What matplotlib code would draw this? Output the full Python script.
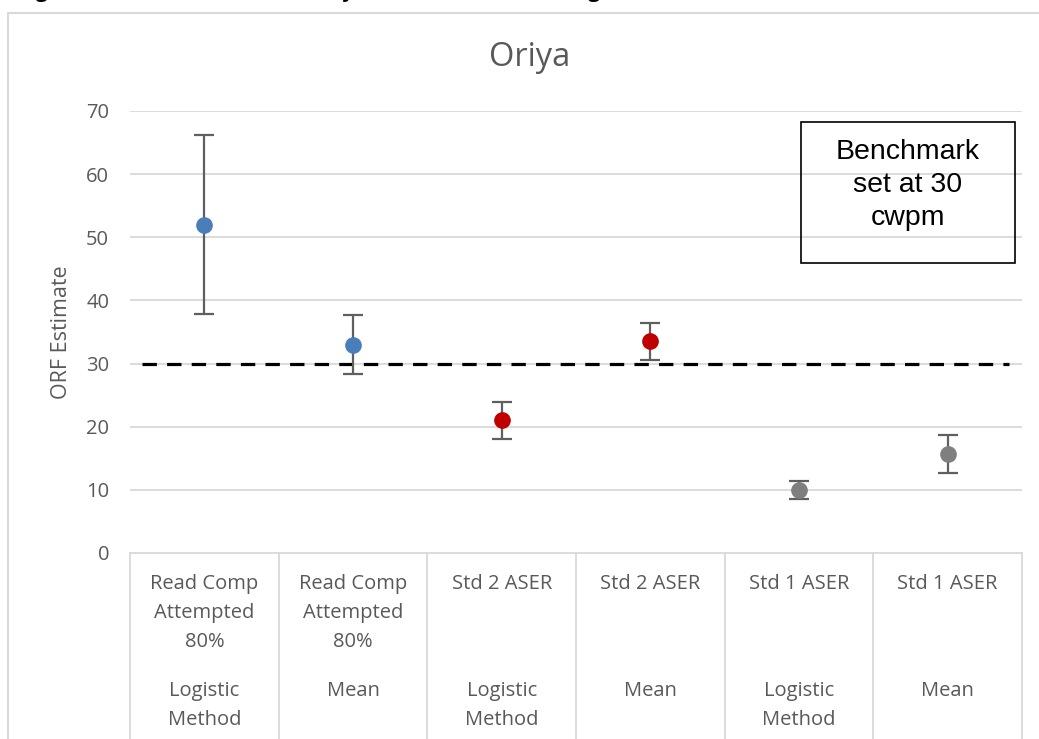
import matplotlib.pyplot as plt
import matplotlib.transforms as mtransforms
from matplotlib.patches import Rectangle
from matplotlib.lines import Line2D

# data
groups = ["Read Comp\nAttempted\n80%", "Read Comp\nAttempted\n80%", "Std 2 ASER",
          "Std 2 ASER", "Std 1 ASER", "Std 1 ASER"]
methods = ["Logistic\nMethod", "Mean", "Logistic\nMethod", "Mean", "Logistic\nMethod", "Mean"]
estimate = [52.0, 33.0, 21.0, 33.6, 10.0, 15.7]
upper = [66.2, 37.7, 23.9, 36.4, 11.4, 18.7]
lower = [37.9, 28.3, 18.0, 30.6, 8.5, 12.6]
colors = ["#4a7ebb", "#4a7ebb", "#c00000", "#c00000", "#7f7f7f", "#7f7f7f"]
benchmark = 30
yticks = [0, 10, 20, 30, 40, 50, 60, 70]

W, H = 1039, 739
font = "Open Sans"
txt_gray = "#595959"
grid_gray = "#d9d9d9"

fig = plt.figure(figsize=(W / 100, H / 100), dpi=100)
ax = fig.add_axes([130 / W, 1 - 553 / H, (1022 - 130) / W, (553 - 111) / H])

x = list(range(len(estimate)))
for i in x:
    ax.errorbar(i, estimate[i],
                yerr=[[estimate[i] - lower[i]], [upper[i] - estimate[i]]],
                fmt="o", color=colors[i], ms=11, ecolor="#5f5f5f",
                elinewidth=1.6, capsize=7, capthick=1.6, zorder=3)

# benchmark line
ax.plot([-0.42, 5.41], [benchmark, benchmark], color="black", lw=2.3,
        dashes=(4.5, 3.2), zorder=2)

ax.set_xlim(-0.5, 5.5)
ax.set_ylim(0, 70)
ax.set_yticks(yticks)
ax.set_yticklabels([str(t) for t in yticks], fontfamily=font, fontsize=14.5, color=txt_gray)
ax.tick_params(axis="y", length=0, pad=15)
ax.set_xticks([])
for t in yticks[1:]:
    ax.axhline(t, color=grid_gray, lw=1.3, zorder=1)
for s in ax.spines.values():
    s.set_visible(False)
ax.set_ylabel("ORF Estimate", fontfamily=font, fontsize=15.5, color=txt_gray, labelpad=10)

# two level category axis
trans = mtransforms.blended_transform_factory(ax.transData, ax.transAxes)
ax.add_line(Line2D([-0.5, 5.5], [0, 0], transform=trans, color=grid_gray, lw=1.3, clip_on=False))
for b in range(len(estimate) + 1):
    ax.add_line(Line2D([b - 0.5, b - 0.5], [0, -0.43], transform=trans,
                       color=grid_gray, lw=1.3, clip_on=False))
for i in x:
    ax.text(i, -0.048, groups[i], transform=trans, ha="center", va="top",
            fontfamily=font, fontsize=14.5, color=txt_gray, linespacing=1.6)
    ax.text(i, -0.29, methods[i], transform=trans, ha="center", va="top",
            fontfamily=font, fontsize=14.5, color=txt_gray, linespacing=1.6)

fig.text(530 / W, 1 - 58 / H, "Oriya", ha="center", va="center",
         fontfamily=font, fontsize=23.5, color=txt_gray)

# benchmark note box
fig.patches.append(Rectangle((801 / W, 1 - 263 / H), 214 / W, 141 / H,
                             transform=fig.transFigure, fill=False,
                             edgecolor="black", lw=1.2))
fig.text(908 / W, 1 - 185 / H, "Benchmark\nset at 30\ncwpm", ha="center", va="center",
         fontfamily="Liberation Sans", fontsize=20.5, linespacing=1.35)

# chart area border and cut-off caption above it
fig.add_artist(Line2D([8 / W, 8 / W, 1.0], [0, 1 - 13 / H, 1 - 13 / H],
                      transform=fig.transFigure, color=grid_gray, lw=1.5))
fig.text(18 / W, 1 + 3 / H, "Figure 3: ORF Benchmark in Oriya Across Methods Using Each Estimate",
         ha="left", va="baseline", fontfamily=font, fontweight="bold", fontsize=15)

fig.savefig("out.png", dpi=100)
